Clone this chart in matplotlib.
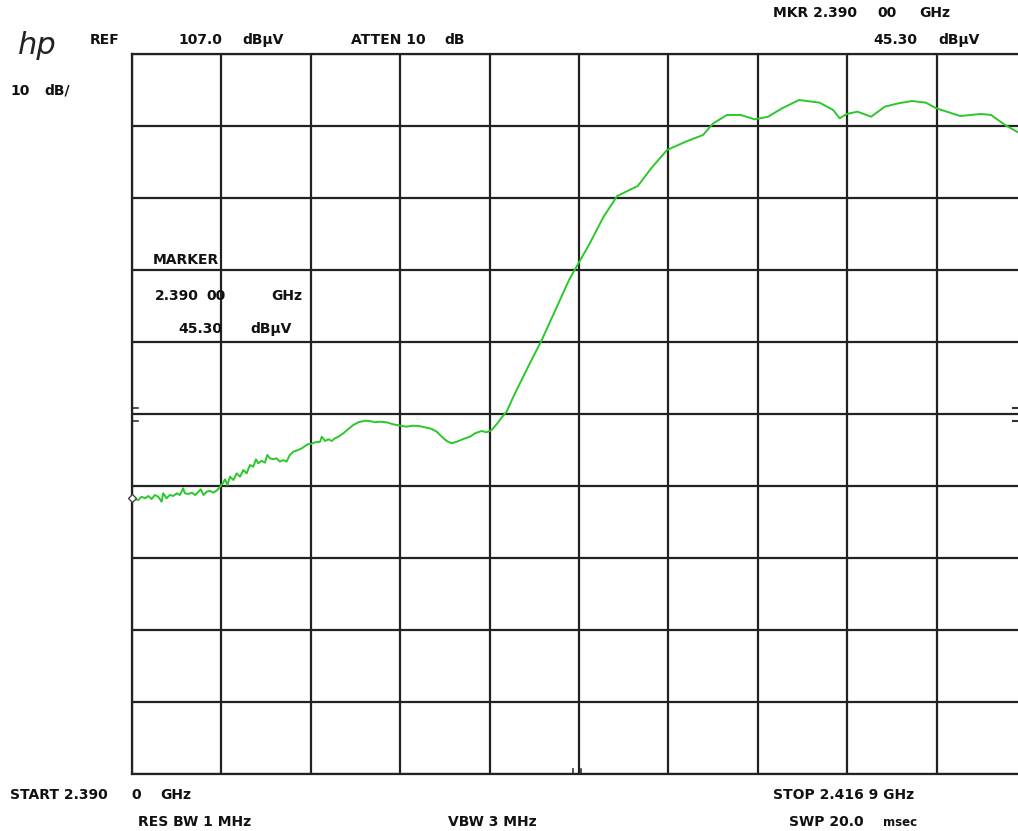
import numpy as np
import matplotlib
matplotlib.use("Agg")
import matplotlib.pyplot as plt
import matplotlib.transforms as mtransforms

# sweep settings (spectrum analyser screen)
f_start = 2390.0     # MHz
f_stop = 2416.9      # MHz
ref_level = 107.0    # dBuV, top of screen
db_per_div = 10
n_div = 10

# trace: frequency (MHz) and level (dBuV)
freq = [2390.00, 2390.09, 2390.19, 2390.29, 2390.39, 2390.49, 2390.59, 2390.69,
        2390.79, 2390.89, 2390.94, 2391.04, 2391.14, 2391.24, 2391.35, 2391.44,
        2391.54, 2391.59, 2391.69, 2391.80, 2391.90, 2392.00, 2392.07, 2392.15,
        2392.25, 2392.35, 2392.45, 2392.57, 2392.65, 2392.73, 2392.80, 2392.87,
        2392.95, 2393.05, 2393.15, 2393.25, 2393.35, 2393.45, 2393.55, 2393.65,
        2393.73, 2393.80, 2393.90, 2394.00, 2394.07, 2394.15, 2394.25, 2394.35,
        2394.45, 2394.55, 2394.65, 2394.75, 2394.85, 2395.00, 2395.11, 2395.21,
        2395.30, 2395.36, 2395.51, 2395.66, 2395.71, 2395.81, 2395.91, 2396.01,
        2396.11, 2396.21, 2396.36, 2396.51, 2396.66, 2396.81, 2397.01, 2397.16,
        2397.31, 2397.46, 2397.66, 2397.86, 2398.06, 2398.27, 2398.46, 2398.67,
        2398.87, 2399.02, 2399.17, 2399.32, 2399.47, 2399.62, 2399.77, 2399.97,
        2400.17, 2400.32, 2400.52, 2400.67, 2400.82, 2400.97, 2401.12, 2401.27,
        2401.50, 2401.92, 2402.33, 2402.74, 2403.15, 2403.44, 2403.78, 2404.19,
        2404.60, 2405.22, 2405.63, 2406.10, 2406.66, 2407.18, 2407.49, 2407.90,
        2408.32, 2408.73, 2409.14, 2409.56, 2410.07, 2410.69, 2411.10, 2411.29,
        2411.51, 2411.83, 2412.24, 2412.65, 2413.06, 2413.47, 2413.89, 2414.20,
        2414.92, 2415.55, 2415.85, 2416.27, 2416.63, 2416.90]
level = [45.30, 45.15, 45.06, 45.51, 45.29, 45.61, 45.19, 45.75,
         45.51, 44.82, 45.99, 45.29, 45.75, 45.61, 45.99, 45.75,
         46.68, 45.99, 45.89, 46.07, 45.75, 46.21, 46.54, 45.75,
         46.21, 46.31, 46.07, 46.44, 46.90, 47.38, 47.93, 47.14,
         48.29, 47.83, 48.76, 48.29, 49.22, 48.76, 49.92, 49.68,
         50.71, 50.15, 50.51, 50.24, 51.31, 50.85, 50.71, 50.85,
         50.38, 50.61, 50.38, 51.31, 51.76, 52.00, 52.24, 52.56,
         52.83, 52.79, 53.07, 53.15, 53.85, 53.25, 53.49, 53.25,
         53.63, 53.85, 54.32, 54.92, 55.47, 55.85, 56.07, 56.03,
         55.85, 55.93, 55.85, 55.57, 55.38, 55.24, 55.38, 55.29,
         55.10, 54.92, 54.54, 53.85, 53.25, 52.93, 53.15, 53.53,
         53.85, 54.32, 54.64, 54.46, 54.78, 55.57, 56.49, 57.32,
         59.64, 63.57, 67.28, 71.44, 75.61, 77.97, 80.75, 84.40,
         87.28, 88.67, 91.17, 93.67, 94.82, 95.75, 97.37, 98.53,
         98.53, 97.93, 98.29, 99.46, 100.61, 100.24, 99.22, 98.07,
         98.67, 98.99, 98.29, 99.68, 100.15, 100.47, 100.24, 99.46,
         98.39, 98.67, 98.53, 97.14, 96.21, 95.50]

W, H = 1018, 831
fig = plt.figure(figsize=(W / 100, H / 100), dpi=100)
fig.patch.set_facecolor("white")

# graticule: right edge runs just past the picture, as on the scan
ax = fig.add_axes([132 / W, (H - 774) / H, (1026 - 132) / W, (774 - 54) / H])
ax.set_xlim(f_start, f_stop)
ax.set_ylim(ref_level - n_div * db_per_div, ref_level)
ax.set_xticks(np.linspace(f_start, f_stop, n_div + 1))
ax.set_yticks(np.linspace(ref_level - n_div * db_per_div, ref_level, n_div + 1))
ax.grid(True, color="#222222", lw=1.6)
ax.tick_params(length=0, labelbottom=False, labelleft=False)
for s in ax.spines.values():
    s.set_color("#222222")
    s.set_linewidth(1.6)

ax.plot(freq, level, color="#2ac82a", lw=1.4, zorder=3)
# marker symbol at the marker frequency
ax.plot(freq[0], level[0], marker="D", ms=4, mfc="white", mec="#444444", mew=1.0,
        zorder=4, clip_on=False)

# small reference marks at the screen edges
tr = mtransforms.blended_transform_factory(ax.transAxes, ax.transData)
for yv in (57.8, 56.0):
    ax.plot([0, 0.007], [yv, yv], color="#333333", lw=1.2, transform=tr, clip_on=False)
    ax.plot([0.986, 0.990], [yv, yv], color="#333333", lw=1.5, transform=tr, clip_on=False)
tb = mtransforms.blended_transform_factory(ax.transAxes, ax.transAxes)
for xv in (0.4933, 0.5022):
    ax.plot([xv, xv], [0, 0.007], color="#333333", lw=1.2, transform=tb, clip_on=False)


def label(x, y, s, size=10, **kw):
    fig.text(x / W, 1 - y / H, s, fontsize=size, fontweight="bold",
             family="DejaVu Sans", va="center", ha="left", color="#111111", **kw)


# hp logo
fig.text(18 / W, 1 - 46 / H, "hp", fontsize=22, style="italic", family="DejaVu Sans",
         fontweight="light", va="center", ha="left", color="#222222")

label(90, 40, "REF")
label(178, 40, "107.0")
label(242, 40, "dB\u00b5V")
label(351, 40, "ATTEN 10")
label(444, 40, "dB")
label(773, 13, "MKR 2.390")
label(877, 13, "00")
label(919, 13, "GHz")
label(873, 40, "45.30")
label(938, 40, "dB\u00b5V")
label(10, 91, "10")
label(44, 91, "dB/")

label(153, 260, "MARKER")
label(155, 296, "2.390")
label(206, 296, "00")
label(271, 296, "GHz")
label(178, 329, "45.30")
label(250, 329, "dB\u00b5V")

label(10, 795, "START 2.390")
label(131, 795, "0")
label(160, 795, "GHz")
label(138, 822, "RES BW 1 MHz")
label(448, 822, "VBW 3 MHz")
label(773, 795, "STOP 2.416 9 GHz")
label(789, 822, "SWP 20.0")
label(883, 823, "msec", size=8.5)

fig.savefig("out.png", dpi=100)
